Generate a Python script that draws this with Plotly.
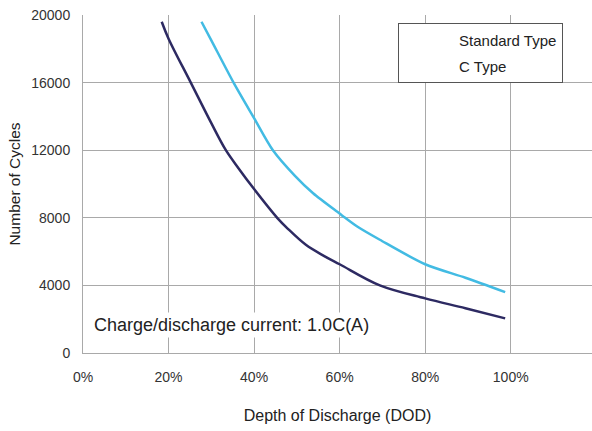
import plotly.graph_objects as go

# Depth of discharge (%) and number of cycles
dark_x = [18.4, 20, 25.2, 30, 33.4, 36.3, 40, 45.4, 47.9, 52.1, 56.3, 60, 69.4, 80, 89.4, 98.7]
dark_y = [19600, 18600, 16000, 13600, 12000, 10950, 9700, 8000, 7350, 6400, 5750, 5250, 4000, 3230, 2650, 2050]

light_x = [27.7, 30, 35.2, 40, 44.4, 49.5, 53.8, 60, 61.3, 64.2, 69.4, 80, 89.4, 98.7]
light_y = [19600, 18500, 16000, 13900, 12000, 10500, 9450, 8250, 8000, 7470, 6700, 5250, 4450, 3600]

series_names = ["Standard Type", "C Type"]
x_ticks = [0, 20, 40, 60, 80, 100]
x_tick_labels = ["0%", "20%", "40%", "60%", "80%", "100%"]
y_ticks = [0, 4000, 8000, 12000, 16000, 20000]
y_tick_labels = ["0", "4000", "8000", "12000", "16000", "20000"]

DARK = "#2d2a62"
LIGHT = "#42bbe3"
GRID = "#a9a9a9"
FONT = "Liberation Sans, Arial, sans-serif"

fig = go.Figure()
fig.add_trace(go.Scatter(x=dark_x, y=dark_y, mode="lines", name=series_names[0],
                         line=dict(color=DARK, width=2.5, shape="spline", smoothing=1.0),
                         showlegend=False))
fig.add_trace(go.Scatter(x=light_x, y=light_y, mode="lines", name=series_names[1],
                         line=dict(color=LIGHT, width=2.5, shape="spline", smoothing=0.8),
                         showlegend=False))
# legend entries (symbols render white as in the reference)
for i, nm in enumerate(series_names):
    fig.add_trace(go.Scatter(x=[None], y=[None], mode="lines", name=nm,
                             legendgroup="g%d" % i,
                             line=dict(color="white", width=2)))

fig.add_annotation(x=1.9, y=1640, xref="x", yref="y", xanchor="left", yanchor="middle",
                   text="Charge/discharge current: 1.0C(A)", showarrow=False,
                   font=dict(family=FONT, size=18, color="#222"),
                   bgcolor="white", borderpad=2)

fig.update_layout(
    width=592, height=431,
    margin=dict(l=83, r=0, t=15, b=78, autoexpand=False),
    paper_bgcolor="white", plot_bgcolor="white",
    font=dict(family=FONT, color="#333"),
    legend=dict(x=0.619, y=0.976, xanchor="left", yanchor="top",
                bgcolor="white", bordercolor="#555", borderwidth=1,
                font=dict(family=FONT, size=15, color="#222"),
                itemwidth=50, tracegroupgap=3),
    xaxis=dict(range=[0, 119], tickvals=x_ticks, ticktext=x_tick_labels,
               showgrid=True, gridcolor=GRID, gridwidth=1,
               showline=True, linecolor=GRID, linewidth=1, zeroline=False,
               ticks="", ticklabelstandoff=11, automargin=False,
               tickfont=dict(family=FONT, size=14, color="#333"),
               title=dict(text="Depth of Discharge (DOD)", standoff=26,
                          font=dict(family=FONT, size=16, color="#222"))),
    yaxis=dict(range=[0, 20000], tickvals=y_ticks, ticktext=y_tick_labels,
               showgrid=True, gridcolor=GRID, gridwidth=1,
               showline=True, linecolor=GRID, linewidth=1, zeroline=False,
               ticks="", ticklabelstandoff=9, automargin=False,
               tickfont=dict(family=FONT, size=14, color="#333"),
               title=dict(text="Number of Cycles", standoff=6,
                          font=dict(family=FONT, size=15.5, color="#222"))),
)

fig.write_html("out.html",
               config={"displayModeBar": False},
               post_script="document.body.style.margin='0';document.body.style.overflow='hidden';")
